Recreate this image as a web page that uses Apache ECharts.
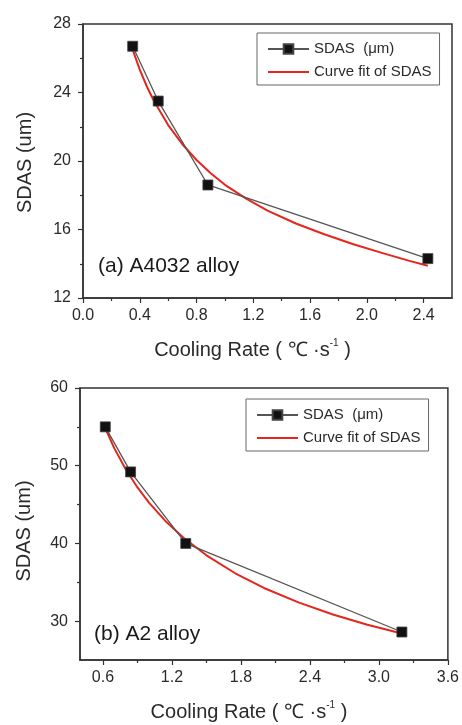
<!DOCTYPE html>
<html>
<head>
<meta charset="utf-8">
<script src="https://cdn.jsdelivr.net/npm/echarts@6/dist/echarts.min.js"></script>
<style>
html,body{margin:0;padding:0;background:#fff;}
#chart{width:462px;height:725px;}
</style>
</head>
<body>
<div id="chart"></div>
<script>
// ---- Panel (a) A4032 alloy ----
const coolingA = [0.35, 0.53, 0.88, 2.43];
const sdasA = [26.7, 23.5, 18.6, 14.3];
const fitXA = [0.35, 0.40, 0.45, 0.50, 0.60, 0.70, 0.80, 0.90, 1.00, 1.15, 1.30, 1.50, 1.70, 1.90, 2.10, 2.30, 2.43];
const fitYA = [26.5, 25.34, 24.35, 23.5, 22.1, 20.98, 20.06, 19.28, 18.61, 17.8, 17.1, 16.35, 15.72, 15.15, 14.65, 14.17, 13.88];
const xMajorA = [0.0, 0.4, 0.8, 1.2, 1.6, 2.0, 2.4];
const xMinorA = [0.2, 0.6, 1.0, 1.4, 1.8, 2.2];
const yMajorA = [12, 16, 20, 24, 28];
const yMinorA = [14, 18, 22, 26];

// ---- Panel (b) A2 alloy ----
const coolingB = [0.62, 0.84, 1.32, 3.2];
const sdasB = [55.0, 49.2, 40.0, 28.6];
const fitXB = [0.62, 0.70, 0.80, 0.90, 1.00, 1.15, 1.30, 1.50, 1.75, 2.00, 2.30, 2.60, 2.90, 3.20];
const fitYB = [54.8, 52.2, 49.48, 47.2, 45.25, 42.78, 40.73, 38.47, 36.16, 34.27, 32.41, 30.86, 29.54, 28.4];
const xMajorB = [0.6, 1.2, 1.8, 2.4, 3.0, 3.6];
const xMinorB = [0.9, 1.5, 2.1, 2.7, 3.3];
const yMajorB = [30, 40, 50, 60];
const yMinorB = [35, 45, 55];

const seriesNames = ['SDAS  (\u03bcm)', 'Curve fit of SDAS'];
const xTitle = 'Cooling Rate ( \u2103 \u00b7s{sup|-1} )';
const yTitle = 'SDAS (um)';
const panelLabels = ['(a) A4032 alloy', '(b) A2 alloy'];

const FONT = 'Liberation Sans, Arial, Helvetica, sans-serif';
const TXT = '#2a2a2a';
const AX = '#333';
const RED = '#e5261c';

function zip(a, b) { return a.map((v, i) => [v, b[i]]); }

function xMain(grid, min, max, major, title) {
  return {
    type: 'value', gridIndex: grid, position: 'bottom', min: min, max: max,
    axisLine: { show: true, onZero: false, lineStyle: { color: AX, width: 1.5 } },
    axisTick: { show: true, inside: false, length: 5, customValues: major, lineStyle: { color: AX, width: 1.2 } },
    axisLabel: { show: true, customValues: major, margin: 10, fontFamily: FONT, fontSize: 16, color: TXT,
      formatter: v => Number(v).toFixed(1) },
    splitLine: { show: false },
    name: title, nameLocation: 'middle', nameGap: 40,
    nameTextStyle: { fontFamily: FONT, fontSize: 20, color: TXT, lineHeight: 24, padding: [0, 30, 0, 0],
      rich: { sup: { fontFamily: FONT, fontSize: 10, color: TXT, verticalAlign: 'top', lineHeight: 12 } } }
  };
}
function xMinor(grid, min, max, minor) {
  return {
    type: 'value', gridIndex: grid, position: 'bottom', min: min, max: max,
    axisLine: { show: false, onZero: false },
    axisTick: { show: true, inside: false, length: 3, customValues: minor, lineStyle: { color: AX, width: 1.2 } },
    axisLabel: { show: false }, splitLine: { show: false }
  };
}
function yMain(grid, min, max, major, title, margin, gap, pad) {
  return {
    type: 'value', gridIndex: grid, position: 'left', min: min, max: max,
    axisLine: { show: true, onZero: false, lineStyle: { color: AX, width: 1.5 } },
    axisTick: { show: true, inside: false, length: 5, customValues: major, lineStyle: { color: AX, width: 1.2 } },
    axisLabel: { show: true, customValues: major, margin: margin, fontFamily: FONT, fontSize: 16, color: TXT },
    splitLine: { show: false },
    name: title, nameLocation: 'middle', nameGap: gap,
    nameTextStyle: { fontFamily: FONT, fontSize: 20, color: TXT, padding: pad }
  };
}
function yMinor(grid, min, max, minor) {
  return {
    type: 'value', gridIndex: grid, position: 'left', min: min, max: max,
    axisLine: { show: false, onZero: false },
    axisTick: { show: true, inside: false, length: 3, customValues: minor, lineStyle: { color: AX, width: 1.2 } },
    axisLabel: { show: false }, splitLine: { show: false }
  };
}
function dataSeries(xi, yi, xs, ys) {
  return {
    name: seriesNames[0], type: 'line', xAxisIndex: xi, yAxisIndex: yi,
    data: zip(xs, ys), symbol: 'rect', symbolSize: 10, showSymbol: true,
    lineStyle: { color: '#555', width: 1.3 },
    itemStyle: { color: '#111', borderColor: '#444', borderWidth: 0.8 },
    z: 3, animation: false
  };
}
function fitSeries(xi, yi, xs, ys) {
  return {
    name: seriesNames[1], type: 'line', xAxisIndex: xi, yAxisIndex: yi,
    data: zip(xs, ys), symbol: 'none', smooth: false,
    lineStyle: { color: RED, width: 2, join: 'round' },
    itemStyle: { color: RED },
    z: 2, animation: false
  };
}
function legend(left, top) {
  return {
    data: [
      { name: seriesNames[0] },
      { name: seriesNames[1], itemStyle: { color: 'transparent', borderColor: 'transparent', borderWidth: 0 } }
    ],
    orient: 'vertical', left: left, top: top, align: 'left',
    itemWidth: 41, itemHeight: 12, itemGap: 5,
    padding: [7, 8, 4, 10],
    borderColor: '#666', borderWidth: 1, backgroundColor: '#fff',
    textStyle: { fontFamily: FONT, fontSize: 15, color: TXT, lineHeight: 18 },
    selectedMode: false
  };
}

const chart = echarts.init(document.getElementById('chart'), null, { renderer: 'canvas' });
chart.setOption({
  animation: false,
  backgroundColor: '#fff',
  grid: [
    { left: 83, top: 24, width: 369, height: 274, show: true, borderColor: AX, borderWidth: 1.5, backgroundColor: 'transparent', containLabel: false },
    { left: 80, top: 388, width: 368, height: 275, show: true, borderColor: AX, borderWidth: 1.5, backgroundColor: 'transparent', containLabel: false }
  ],
  xAxis: [
    xMain(0, 0, 2.6, xMajorA, xTitle),
    xMinor(0, 0, 2.6, xMinorA),
    xMain(1, 0.4, 3.6, xMajorB, xTitle),
    xMinor(1, 0.4, 3.6, xMinorB)
  ],
  yAxis: [
    yMain(0, 12, 28, yMajorA, yTitle, 12, 48, [0, 3, 0, 0]),
    yMinor(0, 12, 28, yMinorA),
    yMain(1, 25, 60, yMajorB, yTitle, 12, 46, [0, 14, 0, 0]),
    yMinor(1, 25, 60, yMinorB)
  ],
  legend: [legend(257, 33), legend(246, 399)],
  series: [
    dataSeries(0, 0, coolingA, sdasA),
    fitSeries(0, 0, fitXA, fitYA),
    dataSeries(2, 2, coolingB, sdasB),
    fitSeries(2, 2, fitXB, fitYB)
  ],
  graphic: [
    { type: 'text', left: 98, top: 256, style: { text: panelLabels[0], fontFamily: FONT, fontSize: 21, fill: '#1a1a1a' } },
    { type: 'text', left: 94, top: 624, style: { text: panelLabels[1], fontFamily: FONT, fontSize: 21, fill: '#1a1a1a' } }
  ]
});
</script>
</body>
</html>
